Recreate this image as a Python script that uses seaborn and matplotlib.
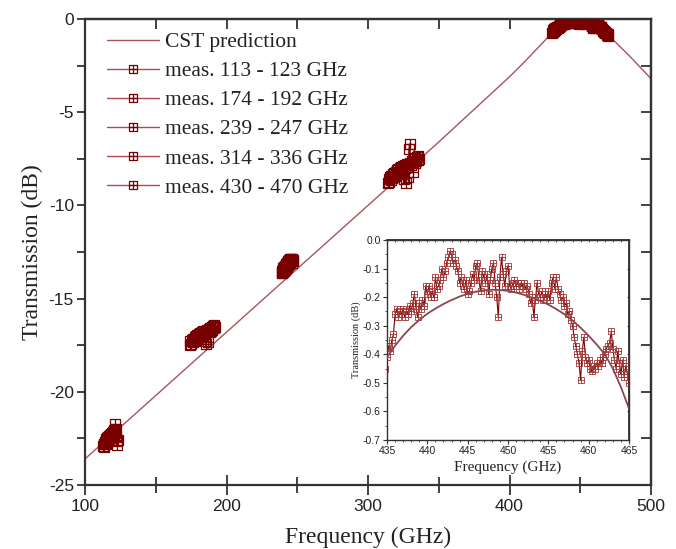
import numpy as np
import pandas as pd
import matplotlib
matplotlib.use("Agg")
import matplotlib.pyplot as plt
from matplotlib.path import Path
from matplotlib.ticker import MultipleLocator
import seaborn as sns

# ---------------- data ----------------
cst_f = [100, 125, 150, 175, 200, 225, 250, 275, 300, 325, 350, 375, 400, 410, 420, 425,
         430, 433, 435, 436, 437, 438, 439, 440, 441, 442, 443, 444, 445, 446, 447, 448,
         449, 450, 451, 452, 453, 454, 455, 456, 457, 458, 459, 460, 461, 462, 463,
         464, 465, 467.5, 470, 475, 480, 485, 490, 495, 500]
cst_db = [-23.6, -21.9, -20.2, -18.5, -16.8, -15.1, -13.4, -11.7, -10.0, -8.3, -6.6,
          -4.85, -3.1, -2.35, -1.55, -1.15, -0.75, -0.54, -0.41, -0.37, -0.335, -0.305,
          -0.28, -0.258, -0.24, -0.224, -0.21, -0.198, -0.188, -0.181, -0.176, -0.174,
          -0.175, -0.178, -0.184, -0.192, -0.202, -0.213, -0.226, -0.242, -0.26, -0.282,
          -0.307, -0.335, -0.366, -0.4, -0.45, -0.515, -0.59, -0.74, -0.9, -1.25, -1.62,
          -2.0, -2.4, -2.8, -3.2]

f1 = [113.0, 113.3, 113.6, 113.9, 114.2, 114.5, 114.8, 115.1, 115.4, 115.7,
      116.0, 116.3, 116.6, 116.9, 117.2, 117.5, 117.8, 118.1, 118.4, 118.7,
      119.0, 119.3, 119.6, 119.9, 120.2, 120.5, 120.8, 121.1, 121.4, 121.7,
      122.0, 122.3, 122.6, 123.0]
v1 = [-22.9, -22.8, -22.95, -22.7, -22.75, -22.6, -22.8, -22.55, -22.5, -22.7,
      -22.45, -22.6, -22.4, -22.55, -22.35, -22.5, -22.3, -22.45, -22.25, -22.4,
      -22.2, -22.35, -22.15, -22.3, -22.1, -22.25, -22.05, -21.75, -22.2, -22.0,
      -22.4, -22.65, -22.85, -22.6]

f2 = [174.0, 174.5, 175.0, 175.5, 176.0, 176.5, 177.0, 177.5, 178.0, 178.5,
      179.0, 179.5, 180.0, 180.5, 181.0, 181.5, 182.0, 182.5, 183.0, 183.5,
      184.0, 184.5, 185.0, 185.5, 186.0, 186.5, 187.0, 187.5, 188.0, 188.5,
      189.0, 189.5, 190.0, 190.5, 191.0, 191.5, 192.0]
v2 = [-17.5, -17.3, -17.45, -17.2, -17.35, -17.15, -17.3, -17.05, -17.2, -17.0,
      -17.15, -16.95, -17.1, -16.9, -17.05, -16.85, -17.0, -16.8, -16.95, -16.75,
      -16.9, -17.3, -16.85, -17.45, -16.8, -16.7, -17.35, -16.65, -16.8, -16.6,
      -16.75, -16.55, -16.7, -16.45, -16.6, -16.4, -16.5]

f3 = [239.0, 239.25, 239.5, 239.75, 240.0, 240.25, 240.5, 240.75, 241.0, 241.25,
      241.5, 241.75, 242.0, 242.25, 242.5, 242.75, 243.0, 243.25, 243.5, 243.75,
      244.0, 244.25, 244.5, 244.75, 245.0, 245.25, 245.5, 245.75, 246.0, 246.25,
      246.5, 246.75, 247.0]
v3 = [-13.65, -13.5, -13.6, -13.4, -13.55, -13.35, -13.5, -13.3, -13.45, -13.25,
      -13.4, -13.2, -13.35, -13.15, -13.3, -13.1, -13.25, -13.05, -13.2, -13.0,
      -13.15, -12.95, -13.1, -12.9, -13.05, -12.9, -13.0, -12.85, -12.95, -13.1,
      -12.9, -13.0, -12.95]

f4 = [314.0, 314.5, 315.0, 315.5, 316.0, 316.5, 317.0, 317.5, 318.0, 318.5,
      319.0, 319.5, 320.0, 320.5, 321.0, 321.5, 322.0, 322.5, 323.0, 323.5,
      324.0, 324.5, 325.0, 325.5, 326.0, 326.5, 327.0, 327.5, 328.0, 328.5,
      329.0, 329.5, 330.0, 330.5, 331.0, 331.5, 332.0, 332.5, 333.0, 333.5,
      334.0, 334.5, 335.0, 335.5, 336.0]
v4 = [-8.8, -8.6, -8.75, -8.5, -8.65, -8.4, -8.55, -8.3, -8.5, -8.25,
      -8.4, -8.2, -8.35, -8.1, -8.3, -8.05, -8.2, -8.0, -8.15, -7.95,
      -8.1, -7.9, -8.05, -8.6, -7.85, -8.0, -8.8, -7.8, -7.95, -8.5,
      -7.0, -6.7, -7.7, -7.85, -7.6, -8.2, -7.75, -7.5, -7.7, -7.45,
      -7.6, -7.4, -7.55, -7.35, -7.5]

f5 = [430.0, 430.4, 430.8, 431.2, 431.6, 432.0, 432.4, 432.8, 433.2, 433.6, 434.0, 434.4, 434.8,
      435.0, 435.2, 435.4, 435.6, 435.8, 436.0, 436.2, 436.4, 436.6, 436.8,
      437.0, 437.2, 437.4, 437.6, 437.8, 438.0, 438.2, 438.4, 438.6, 438.8,
      439.0, 439.2, 439.4, 439.6, 439.8, 440.0, 440.2, 440.4, 440.6, 440.8,
      441.0, 441.2, 441.4, 441.6, 441.8, 442.0, 442.2, 442.4, 442.6, 442.8,
      443.0, 443.2, 443.4, 443.6, 443.8, 444.0, 444.2, 444.4, 444.6, 444.8,
      445.0, 445.2, 445.4, 445.6, 445.8, 446.0, 446.2, 446.4, 446.6, 446.8,
      447.0, 447.2, 447.4, 447.6, 447.8, 448.0, 448.2, 448.4, 448.6, 448.8,
      449.0, 449.2, 449.4, 449.6, 449.8, 450.0, 450.2, 450.4, 450.6, 450.8,
      451.0, 451.2, 451.4, 451.6, 451.8, 452.0, 452.2, 452.4, 452.6, 452.8,
      453.0, 453.2, 453.4, 453.6, 453.8, 454.0, 454.2, 454.4, 454.6, 454.8,
      455.0, 455.2, 455.4, 455.6, 455.8, 456.0, 456.2, 456.4, 456.6, 456.8,
      457.0, 457.2, 457.4, 457.6, 457.8, 458.0, 458.2, 458.4, 458.6, 458.8,
      459.0, 459.2, 459.4, 459.6, 459.8, 460.0, 460.2, 460.4, 460.6, 460.8,
      461.0, 461.2, 461.4, 461.6, 461.8, 462.0, 462.2, 462.4, 462.6, 462.8,
      463.0, 463.2, 463.4, 463.6, 463.8, 464.0, 464.2, 464.4, 464.6, 464.8,
      465.0, 465.4, 465.8, 466.2, 466.6, 467.0, 467.4, 467.8, 468.2, 468.6, 469.0, 469.4, 469.8]
v5 = [-0.75, -0.6, -0.68, -0.55, -0.62, -0.5, -0.58, -0.46, -0.52, -0.44, -0.49, -0.42, -0.45,
      -0.41, -0.37, -0.39, -0.35, -0.33, -0.26, -0.24, -0.27, -0.25, -0.26,
      -0.24, -0.27, -0.25, -0.26, -0.23, -0.25, -0.22, -0.19, -0.24, -0.27,
      -0.22, -0.24, -0.21, -0.23, -0.16, -0.19, -0.16, -0.20, -0.18, -0.20,
      -0.13, -0.17, -0.16, -0.14, -0.10, -0.13, -0.11, -0.08, -0.06, -0.04,
      -0.05, -0.08, -0.07, -0.09, -0.11, -0.15, -0.13, -0.16, -0.17, -0.14,
      -0.19, -0.18, -0.15, -0.12, -0.14, -0.09, -0.08, -0.14, -0.18, -0.11,
      -0.13, -0.15, -0.12, -0.19, -0.14, -0.10, -0.08, -0.15, -0.20, -0.27,
      -0.13, -0.06, -0.12, -0.16, -0.11, -0.09, -0.16, -0.17, -0.15, -0.14,
      -0.16, -0.15, -0.17, -0.15, -0.16, -0.15, -0.17, -0.16, -0.19, -0.22,
      -0.20, -0.27, -0.21, -0.15, -0.19, -0.20, -0.18, -0.21, -0.19, -0.20,
      -0.18, -0.21, -0.15, -0.13, -0.17, -0.13, -0.17, -0.19, -0.21, -0.20,
      -0.23, -0.22, -0.26, -0.25, -0.28, -0.30, -0.34, -0.37, -0.40, -0.43,
      -0.49, -0.39, -0.34, -0.41, -0.43, -0.42, -0.45, -0.46, -0.44, -0.45,
      -0.43, -0.44, -0.42, -0.43, -0.41, -0.40, -0.38, -0.37, -0.36, -0.32,
      -0.38, -0.42, -0.45, -0.39, -0.43, -0.47, -0.42, -0.48, -0.44, -0.47,
      -0.50, -0.55, -0.6, -0.64, -0.62, -0.68, -0.72, -0.76, -0.74, -0.8, -0.85, -0.83, -0.9]

meas_labels = ["meas. 113 - 123 GHz", "meas. 174 - 192 GHz", "meas. 239 - 247 GHz",
               "meas. 314 - 336 GHz", "meas. 430 - 470 GHz"]
x_ticks = [100, 200, 300, 400, 500]
y_ticks = [-25, -20, -15, -10, -5, 0]
inset_x_ticks = [435, 440, 445, 450, 455, 460, 465]
inset_y_ticks = [-0.7, -0.6, -0.5, -0.4, -0.3, -0.2, -0.1, 0.0]

# ---------------- style ----------------
sns.set_theme(style="ticks")
plt.rcParams['font.family'] = ['Liberation Sans', 'DejaVu Sans']
plt.rcParams['axes.unicode_minus'] = False
SERIF = ['Liberation Serif', 'DejaVu Serif']
MEAS = '#7a0000'
CST_C = '#a8545f'
SPINE = '#333333'

box_plus = Path([(-1, -1), (1, -1), (1, 1), (-1, 1), (-1, -1),
                 (-1, 0), (1, 0), (0, -1), (0, 1)],
                [Path.MOVETO, Path.LINETO, Path.LINETO, Path.LINETO, Path.CLOSEPOLY,
                 Path.MOVETO, Path.LINETO, Path.MOVETO, Path.LINETO])

fig = plt.figure(figsize=(6.76, 5.49), dpi=100)
ax = fig.add_axes([85 / 676, 1 - 485 / 549, (651 - 85) / 676, (485 - 19) / 549])

cst = pd.DataFrame({'f': cst_f, 'db': cst_db})
sns.lineplot(data=cst, x='f', y='db', ax=ax, color=CST_C, lw=1.0,
             label='CST prediction', sort=False, estimator=None, zorder=2)

for fv, vv, lab in zip([f1, f2, f3, f4, f5], [v1, v2, v3, v4, v5], meas_labels):
    df = pd.DataFrame({'f': fv, 'db': vv})
    sns.lineplot(data=df, x='f', y='db', ax=ax, color=MEAS, lw=1.0,
                 marker=box_plus, markersize=7, markerfacecolor='none',
                 markeredgecolor=MEAS, markeredgewidth=0.9, label=lab,
                 sort=False, estimator=None, zorder=3)

ax.set_xlim(100, 500)
ax.set_ylim(-25, 0)
ax.set_xticks(x_ticks)
ax.set_yticks(y_ticks)
ax.xaxis.set_minor_locator(MultipleLocator(50))
ax.yaxis.set_minor_locator(MultipleLocator(2.5))
ax.tick_params(axis='x', which='major', direction='inout', length=14, width=1.3,
               color=SPINE, labelsize=12.5, pad=3, labelcolor='#222222')
ax.tick_params(axis='x', which='minor', direction='inout', length=12, width=1.3, color=SPINE)
ax.tick_params(axis='y', which='major', direction='out', length=6, width=1.3,
               color=SPINE, labelsize=12.5, pad=2, labelcolor='#222222')
ax.tick_params(axis='y', which='minor', direction='out', length=6, width=1.3, color=SPINE)
for s in ax.spines.values():
    s.set_linewidth(1.6)
    s.set_color(SPINE)

top = ax.secondary_xaxis('top')
top.set_xticks([150, 200, 250, 300, 350, 400, 450])
top.tick_params(direction='in', length=7, width=1.3, color=SPINE, labeltop=False)
top.spines['top'].set_linewidth(1.6)
top.spines['top'].set_color(SPINE)
right = ax.secondary_yaxis('right')
right.set_yticks([-22.5, -20, -17.5, -15, -12.5, -10, -7.5, -5, -2.5])
right.tick_params(direction='in', length=7, width=1.3, color=SPINE, labelright=False)
right.spines['right'].set_linewidth(1.6)
right.spines['right'].set_color(SPINE)

ax.set_xlabel('Frequency (GHz)', family=SERIF, fontsize=17, labelpad=9, color='#222222')
ax.set_ylabel('Transmission (dB)', family=SERIF, fontsize=17, labelpad=4, color='#222222')

leg = ax.legend(loc='upper left', frameon=False, prop={'family': SERIF, 'size': 15.5},
                handlelength=2.4, handletextpad=0.3, labelspacing=0.42,
                borderaxespad=0.0, borderpad=0.0, markerscale=0.75,
                bbox_to_anchor=(22 / 566, 1 - 13 / 466))
for t in leg.get_texts():
    t.set_color('#222222')
for h in leg.legend_handles[1:]:
    h.set_color('#b04a4a')
    h.set_markeredgecolor(MEAS)

# ---------------- inset ----------------
ax2 = fig.add_axes([387 / 676, 1 - 440 / 549, 242 / 676, 200 / 549])
df5 = pd.DataFrame({'f': f5, 'db': v5})
sns.lineplot(data=df5, x='f', y='db', ax=ax2, color=MEAS, lw=0.8,
             marker=box_plus, markersize=3.8, markerfacecolor='none',
             markeredgecolor='#a33535', markeredgewidth=0.6,
             sort=False, estimator=None, zorder=2, legend=False)
sns.lineplot(data=cst, x='f', y='db', ax=ax2, color='#8a4650', lw=1.3,
             sort=False, estimator=None, zorder=3, legend=False)
ax2.set_xlim(435, 465)
ax2.set_ylim(-0.7, 0.0)
ax2.set_xticks(inset_x_ticks)
ax2.set_yticks(inset_y_ticks)
ax2.set_yticklabels(['-0.7', '-0.6', '-0.5', '-0.4', '-0.3', '-0.2', '-0.1', '0.0'])
ax2.xaxis.set_minor_locator(MultipleLocator(1))
ax2.yaxis.set_minor_locator(MultipleLocator(0.05))
ax2.tick_params(which='major', direction='out', length=3, width=0.8, color=SPINE,
                labelsize=7.5, pad=1.5, labelcolor='#222222')
ax2.tick_params(which='minor', direction='out', length=1.5, width=0.6, color=SPINE)
for s in ax2.spines.values():
    s.set_linewidth(1.0)
    s.set_color(SPINE)
t2 = ax2.secondary_xaxis('top')
t2.set_xticks(np.arange(436, 465, 1.0))
t2.tick_params(direction='in', length=1.5, width=0.6, color=SPINE, labeltop=False)
r2 = ax2.secondary_yaxis('right')
r2.set_yticks(inset_y_ticks)
r2.tick_params(direction='in', length=1.5, width=0.6, color=SPINE, labelright=False)
ax2.set_xlabel('Frequency (GHz)', family=SERIF, fontsize=11, labelpad=3, color='#222222')
ax2.set_ylabel('Transmission (dB)', family=SERIF, fontsize=7.5, labelpad=1, color='#222222')

fig.savefig('out.png', dpi=100)
